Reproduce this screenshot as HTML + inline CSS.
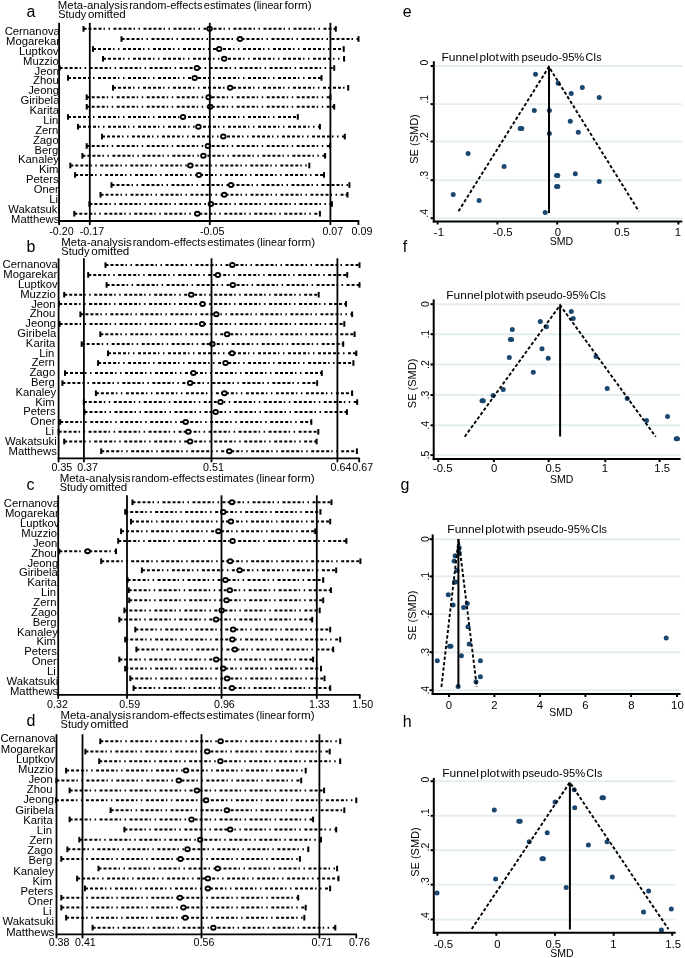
<!DOCTYPE html>
<html><head><meta charset="utf-8"><title>Sensitivity and funnel plots</title>
<style>
html,body{margin:0;padding:0;background:#fff;}
body{width:685px;height:958px;overflow:hidden;}
svg{display:block;font-family:"Liberation Sans", sans-serif;will-change:transform;}
.let{font-size:16px;fill:#000;}
.t10{font-size:10.5px;fill:#000;}
.t11{font-size:11px;fill:#000;}
.lab{font-size:10.5px;fill:#000;}
.tick{font-size:10px;fill:#000;}
.dash{stroke:#000;stroke-width:2;stroke-dasharray:3 2 3 2 3 2 3 2 1.5 3.5 1.5 3.5;fill:none;}
.cap{fill:#000;}
.ax{stroke:#000;stroke-width:1.8;fill:none;}
.ax2{stroke:#000;stroke-width:2;fill:none;}
.circ{fill:#fff;stroke:#000;stroke-width:1.6;}
.grid{stroke:#e4eeef;stroke-width:1.9;}
.fdash{stroke:#000;stroke-width:1.9;stroke-dasharray:3.3 2.1;fill:none;}
.vl{stroke:#000;stroke-width:2;}
</style></head>
<body>
<svg width="685" height="958" viewBox="0 0 685 958">
<rect width="685" height="958" fill="#fff"/>
<text x="26.6" y="16.8" class="let">a</text>
<text class="t10" transform="translate(57.76,8.7) scale(1.0907,1)">Meta-analysis</text>
<text class="t10" transform="translate(129.17,8.7) scale(1.0500,1)">random-effects</text>
<text class="t10" transform="translate(203.74,8.7) scale(1.0542,1)">estimates</text>
<text class="t10" transform="translate(253.14,8.7) scale(1.0190,1)">(linear</text>
<text class="t10" transform="translate(284.44,8.7) scale(1.1098,1)">form)</text>
<text class="t10" transform="translate(58.21,17.7) scale(1.0434,1)">Study</text>
<text class="t10" transform="translate(87.91,17.7) scale(1.1016,1)">omitted</text>
<text class="lab" transform="translate(4.64,35.1) scale(1.075,1)">Cernanova</text>
<text class="lab" transform="translate(6.07,44.97) scale(1.075,1)">Mogarekar</text>
<text class="lab" transform="translate(19.07,54.85) scale(1.075,1)">Luptkov</text>
<text class="lab" transform="translate(23.07,64.72) scale(1.075,1)">Muzzio</text>
<text class="lab" transform="translate(34.53,74.6) scale(1.075,1)">Jeon</text>
<text class="lab" transform="translate(33.05,84.47) scale(1.075,1)">Zhou</text>
<text class="lab" transform="translate(28.23,94.34) scale(1.075,1)">Jeong</text>
<text class="lab" transform="translate(20.54,104.22) scale(1.075,1)">Giribela</text>
<text class="lab" transform="translate(29.57,114.09) scale(1.075,1)">Karita</text>
<text class="lab" transform="translate(43.17,123.97) scale(1.075,1)">Lin</text>
<text class="lab" transform="translate(35.15,133.84) scale(1.075,1)">Zern</text>
<text class="lab" transform="translate(32.95,143.71) scale(1.075,1)">Zago</text>
<text class="lab" transform="translate(34.57,153.59) scale(1.075,1)">Berg</text>
<text class="lab" transform="translate(18.07,163.46) scale(1.075,1)">Kanaley</text>
<text class="lab" transform="translate(38.97,173.34) scale(1.075,1)">Kim</text>
<text class="lab" transform="translate(26.07,183.21) scale(1.075,1)">Peters</text>
<text class="lab" transform="translate(33.67,193.08) scale(1.075,1)">Oner</text>
<text class="lab" transform="translate(49.17,202.96) scale(1.075,1)">Li</text>
<text class="lab" transform="translate(8.35,212.83) scale(1.075,1)">Wakatsuki</text>
<text class="lab" transform="translate(11.07,222.71) scale(1.075,1)">Matthews</text>
<line x1="83.5" y1="28.87" x2="335.8" y2="28.87" class="dash"/>
<rect x="82.5" y="26.07" width="2.0" height="5.6" class="cap"/>
<rect x="334.8" y="26.07" width="2.0" height="5.6" class="cap"/>
<line x1="121.5" y1="38.99" x2="358.5" y2="38.99" class="dash"/>
<rect x="120.5" y="36.19" width="2.0" height="5.6" class="cap"/>
<rect x="357.5" y="36.19" width="2.0" height="5.6" class="cap"/>
<line x1="93" y1="49" x2="343.7" y2="49" class="dash"/>
<rect x="92" y="46.2" width="2.0" height="5.6" class="cap"/>
<rect x="342.7" y="46.2" width="2.0" height="5.6" class="cap"/>
<line x1="103" y1="58.8" x2="344.1" y2="58.8" class="dash"/>
<rect x="102" y="56" width="2.0" height="5.6" class="cap"/>
<rect x="343.1" y="56" width="2.0" height="5.6" class="cap"/>
<line x1="59.6" y1="68" x2="334.2" y2="68" class="dash"/>
<rect x="58.6" y="65.2" width="2.0" height="5.6" class="cap"/>
<rect x="333.2" y="65.2" width="2.0" height="5.6" class="cap"/>
<line x1="68" y1="77.9" x2="321.5" y2="77.9" class="dash"/>
<rect x="67" y="75.1" width="2.0" height="5.6" class="cap"/>
<rect x="320.5" y="75.1" width="2.0" height="5.6" class="cap"/>
<line x1="113" y1="87.8" x2="348.2" y2="87.8" class="dash"/>
<rect x="112" y="85" width="2.0" height="5.6" class="cap"/>
<rect x="347.2" y="85" width="2.0" height="5.6" class="cap"/>
<line x1="86.7" y1="97.2" x2="330.4" y2="97.2" class="dash"/>
<rect x="85.7" y="94.4" width="2.0" height="5.6" class="cap"/>
<rect x="329.4" y="94.4" width="2.0" height="5.6" class="cap"/>
<line x1="86.7" y1="106.8" x2="334.2" y2="106.8" class="dash"/>
<rect x="85.7" y="104" width="2.0" height="5.6" class="cap"/>
<rect x="333.2" y="104" width="2.0" height="5.6" class="cap"/>
<line x1="68" y1="116.9" x2="297.8" y2="116.9" class="dash"/>
<rect x="67" y="114.1" width="2.0" height="5.6" class="cap"/>
<rect x="296.8" y="114.1" width="2.0" height="5.6" class="cap"/>
<line x1="78" y1="126.7" x2="319.9" y2="126.7" class="dash"/>
<rect x="77" y="123.9" width="2.0" height="5.6" class="cap"/>
<rect x="318.9" y="123.9" width="2.0" height="5.6" class="cap"/>
<line x1="102" y1="136.6" x2="344.8" y2="136.6" class="dash"/>
<rect x="101" y="133.8" width="2.0" height="5.6" class="cap"/>
<rect x="343.8" y="133.8" width="2.0" height="5.6" class="cap"/>
<line x1="86.7" y1="146" x2="330.1" y2="146" class="dash"/>
<rect x="85.7" y="143.2" width="2.0" height="5.6" class="cap"/>
<rect x="329.1" y="143.2" width="2.0" height="5.6" class="cap"/>
<line x1="82.4" y1="155.8" x2="325.1" y2="155.8" class="dash"/>
<rect x="81.4" y="153" width="2.0" height="5.6" class="cap"/>
<rect x="324.1" y="153" width="2.0" height="5.6" class="cap"/>
<line x1="70.3" y1="165.5" x2="309.3" y2="165.5" class="dash"/>
<rect x="69.3" y="162.7" width="2.0" height="5.6" class="cap"/>
<rect x="308.3" y="162.7" width="2.0" height="5.6" class="cap"/>
<line x1="75.1" y1="174.9" x2="324" y2="174.9" class="dash"/>
<rect x="74.1" y="172.1" width="2.0" height="5.6" class="cap"/>
<rect x="323" y="172.1" width="2.0" height="5.6" class="cap"/>
<line x1="111.5" y1="185" x2="349.4" y2="185" class="dash"/>
<rect x="110.5" y="182.2" width="2.0" height="5.6" class="cap"/>
<rect x="348.4" y="182.2" width="2.0" height="5.6" class="cap"/>
<line x1="100.5" y1="194.8" x2="347.5" y2="194.8" class="dash"/>
<rect x="99.5" y="192" width="2.0" height="5.6" class="cap"/>
<rect x="346.5" y="192" width="2.0" height="5.6" class="cap"/>
<line x1="89.4" y1="204" x2="331.9" y2="204" class="dash"/>
<rect x="88.4" y="201.2" width="2.0" height="5.6" class="cap"/>
<rect x="330.9" y="201.2" width="2.0" height="5.6" class="cap"/>
<line x1="74.3" y1="213.7" x2="319.9" y2="213.7" class="dash"/>
<rect x="73.3" y="210.9" width="2.0" height="5.6" class="cap"/>
<rect x="318.9" y="210.9" width="2.0" height="5.6" class="cap"/>
<ellipse cx="209.6" cy="28.87" rx="3.2" ry="3.0" fill="#000"/><ellipse cx="209.6" cy="28.87" rx="1.5" ry="1.0" fill="#fff"/>
<ellipse cx="240" cy="38.99" rx="3.2" ry="3.0" fill="#000"/><ellipse cx="240" cy="38.99" rx="1.5" ry="1.0" fill="#fff"/>
<ellipse cx="219.2" cy="49" rx="3.2" ry="3.0" fill="#000"/><ellipse cx="219.2" cy="49" rx="1.5" ry="1.0" fill="#fff"/>
<ellipse cx="224.2" cy="58.8" rx="3.2" ry="3.0" fill="#000"/><ellipse cx="224.2" cy="58.8" rx="1.5" ry="1.0" fill="#fff"/>
<ellipse cx="196.9" cy="68" rx="3.2" ry="3.0" fill="#000"/><ellipse cx="196.9" cy="68" rx="1.5" ry="1.0" fill="#fff"/>
<ellipse cx="194.7" cy="77.9" rx="3.2" ry="3.0" fill="#000"/><ellipse cx="194.7" cy="77.9" rx="1.5" ry="1.0" fill="#fff"/>
<ellipse cx="230.1" cy="87.8" rx="3.2" ry="3.0" fill="#000"/><ellipse cx="230.1" cy="87.8" rx="1.5" ry="1.0" fill="#fff"/>
<ellipse cx="208.6" cy="97.2" rx="3.2" ry="3.0" fill="#000"/><ellipse cx="208.6" cy="97.2" rx="1.5" ry="1.0" fill="#fff"/>
<ellipse cx="210.2" cy="106.8" rx="3.2" ry="3.0" fill="#000"/><ellipse cx="210.2" cy="106.8" rx="1.5" ry="1.0" fill="#fff"/>
<ellipse cx="183" cy="116.9" rx="3.2" ry="3.0" fill="#000"/><ellipse cx="183" cy="116.9" rx="1.5" ry="1.0" fill="#fff"/>
<ellipse cx="198.4" cy="126.7" rx="3.2" ry="3.0" fill="#000"/><ellipse cx="198.4" cy="126.7" rx="1.5" ry="1.0" fill="#fff"/>
<ellipse cx="223.3" cy="136.6" rx="3.2" ry="3.0" fill="#000"/><ellipse cx="223.3" cy="136.6" rx="1.5" ry="1.0" fill="#fff"/>
<ellipse cx="207.9" cy="146" rx="3.2" ry="3.0" fill="#000"/><ellipse cx="207.9" cy="146" rx="1.5" ry="1.0" fill="#fff"/>
<ellipse cx="203.4" cy="155.8" rx="3.2" ry="3.0" fill="#000"/><ellipse cx="203.4" cy="155.8" rx="1.5" ry="1.0" fill="#fff"/>
<ellipse cx="190.3" cy="165.5" rx="3.2" ry="3.0" fill="#000"/><ellipse cx="190.3" cy="165.5" rx="1.5" ry="1.0" fill="#fff"/>
<ellipse cx="198.9" cy="174.9" rx="3.2" ry="3.0" fill="#000"/><ellipse cx="198.9" cy="174.9" rx="1.5" ry="1.0" fill="#fff"/>
<ellipse cx="231" cy="185" rx="3.2" ry="3.0" fill="#000"/><ellipse cx="231" cy="185" rx="1.5" ry="1.0" fill="#fff"/>
<ellipse cx="224.2" cy="194.8" rx="3.2" ry="3.0" fill="#000"/><ellipse cx="224.2" cy="194.8" rx="1.5" ry="1.0" fill="#fff"/>
<ellipse cx="210.9" cy="204" rx="3.2" ry="3.0" fill="#000"/><ellipse cx="210.9" cy="204" rx="1.5" ry="1.0" fill="#fff"/>
<ellipse cx="197.3" cy="213.7" rx="3.2" ry="3.0" fill="#000"/><ellipse cx="197.3" cy="213.7" rx="1.5" ry="1.0" fill="#fff"/>
<line x1="89.8" y1="22.8" x2="89.8" y2="221" class="ax"/>
<line x1="209.8" y1="22.8" x2="209.8" y2="221" class="ax"/>
<line x1="330.4" y1="22.8" x2="330.4" y2="221" class="ax"/>
<line x1="59.1" y1="22.8" x2="59.1" y2="221.9" class="ax"/>
<line x1="58.2" y1="221" x2="359.2" y2="221" class="ax"/>
<line x1="59.1" y1="221" x2="59.1" y2="225" class="ax"/>
<line x1="89.8" y1="221" x2="89.8" y2="225" class="ax"/>
<line x1="209.8" y1="221" x2="209.8" y2="225" class="ax"/>
<line x1="330.4" y1="221" x2="330.4" y2="225" class="ax"/>
<line x1="358.4" y1="221" x2="358.4" y2="225" class="ax"/>
<text class="tick" text-anchor="middle" transform="translate(61.4,234.8) scale(1.07,1)">-0.20</text>
<text class="tick" text-anchor="middle" transform="translate(91.9,234.8) scale(1.07,1)">-0.17</text>
<text class="tick" text-anchor="middle" transform="translate(212.2,234.8) scale(1.07,1)">-0.05</text>
<text class="tick" text-anchor="middle" transform="translate(332.8,234.8) scale(1.07,1)">0.07</text>
<text class="tick" text-anchor="middle" transform="translate(362,234.8) scale(1.07,1)">0.09</text>
<text x="26.6" y="251.9" class="let">b</text>
<text class="t10" transform="translate(61.26,245.5) scale(1.0912,1)">Meta-analysis</text>
<text class="t10" transform="translate(132.7,245.5) scale(1.0504,1)">random-effects</text>
<text class="t10" transform="translate(207.29,245.5) scale(1.0546,1)">estimates</text>
<text class="t10" transform="translate(256.71,245.5) scale(1.0194,1)">(linear</text>
<text class="t10" transform="translate(288.03,245.5) scale(1.1102,1)">form)</text>
<text class="t10" transform="translate(61.3,254.7) scale(1.0497,1)">Study</text>
<text class="t10" transform="translate(91.19,254.7) scale(1.1082,1)">omitted</text>
<text class="lab" transform="translate(2.54,268.4) scale(1.075,1)">Cernanova</text>
<text class="lab" transform="translate(3.27,278.2) scale(1.075,1)">Mogarekar</text>
<text class="lab" transform="translate(18.07,288.01) scale(1.075,1)">Luptkov</text>
<text class="lab" transform="translate(20.17,297.81) scale(1.075,1)">Muzzio</text>
<text class="lab" transform="translate(31.13,307.62) scale(1.075,1)">Jeon</text>
<text class="lab" transform="translate(29.65,317.42) scale(1.075,1)">Zhou</text>
<text class="lab" transform="translate(25.33,327.23) scale(1.075,1)">Jeong</text>
<text class="lab" transform="translate(17.34,337.03) scale(1.075,1)">Giribela</text>
<text class="lab" transform="translate(25.87,346.84) scale(1.075,1)">Karita</text>
<text class="lab" transform="translate(39.17,356.64) scale(1.075,1)">Lin</text>
<text class="lab" transform="translate(31.65,366.45) scale(1.075,1)">Zern</text>
<text class="lab" transform="translate(29.45,376.25) scale(1.075,1)">Zago</text>
<text class="lab" transform="translate(31.07,386.06) scale(1.075,1)">Berg</text>
<text class="lab" transform="translate(15.47,395.87) scale(1.075,1)">Kanaley</text>
<text class="lab" transform="translate(35.17,405.67) scale(1.075,1)">Kim</text>
<text class="lab" transform="translate(23.17,415.47) scale(1.075,1)">Peters</text>
<text class="lab" transform="translate(30.37,425.28) scale(1.075,1)">Oner</text>
<text class="lab" transform="translate(45.27,435.08) scale(1.075,1)">Li</text>
<text class="lab" transform="translate(5.05,444.89) scale(1.075,1)">Wakatsuki</text>
<text class="lab" transform="translate(8.57,454.69) scale(1.075,1)">Matthews</text>
<line x1="105.5" y1="265.1" x2="359.5" y2="265.1" class="dash"/>
<rect x="104.5" y="262.3" width="2.0" height="5.6" class="cap"/>
<rect x="358.5" y="262.3" width="2.0" height="5.6" class="cap"/>
<line x1="88.2" y1="274.9" x2="347.2" y2="274.9" class="dash"/>
<rect x="87.2" y="272.1" width="2.0" height="5.6" class="cap"/>
<rect x="346.2" y="272.1" width="2.0" height="5.6" class="cap"/>
<line x1="106.6" y1="284.9" x2="359.5" y2="284.9" class="dash"/>
<rect x="105.6" y="282.1" width="2.0" height="5.6" class="cap"/>
<rect x="358.5" y="282.1" width="2.0" height="5.6" class="cap"/>
<line x1="64.2" y1="294.7" x2="318.7" y2="294.7" class="dash"/>
<rect x="63.2" y="291.9" width="2.0" height="5.6" class="cap"/>
<rect x="317.7" y="291.9" width="2.0" height="5.6" class="cap"/>
<line x1="59.1" y1="303.9" x2="346" y2="303.9" class="dash"/>
<rect x="58.1" y="301.1" width="2.0" height="5.6" class="cap"/>
<rect x="345" y="301.1" width="2.0" height="5.6" class="cap"/>
<line x1="80.4" y1="314.3" x2="352.1" y2="314.3" class="dash"/>
<rect x="79.4" y="311.5" width="2.0" height="5.6" class="cap"/>
<rect x="351.1" y="311.5" width="2.0" height="5.6" class="cap"/>
<line x1="59.6" y1="323.9" x2="344.3" y2="323.9" class="dash"/>
<rect x="58.6" y="321.1" width="2.0" height="5.6" class="cap"/>
<rect x="343.3" y="321.1" width="2.0" height="5.6" class="cap"/>
<line x1="100.3" y1="334.2" x2="354.6" y2="334.2" class="dash"/>
<rect x="99.3" y="331.4" width="2.0" height="5.6" class="cap"/>
<rect x="353.6" y="331.4" width="2.0" height="5.6" class="cap"/>
<line x1="81.7" y1="344.1" x2="343.2" y2="344.1" class="dash"/>
<rect x="80.7" y="341.3" width="2.0" height="5.6" class="cap"/>
<rect x="342.2" y="341.3" width="2.0" height="5.6" class="cap"/>
<line x1="108" y1="353.3" x2="356.3" y2="353.3" class="dash"/>
<rect x="107" y="350.5" width="2.0" height="5.6" class="cap"/>
<rect x="355.3" y="350.5" width="2.0" height="5.6" class="cap"/>
<line x1="98.1" y1="363" x2="353.4" y2="363" class="dash"/>
<rect x="97.1" y="360.2" width="2.0" height="5.6" class="cap"/>
<rect x="352.4" y="360.2" width="2.0" height="5.6" class="cap"/>
<line x1="65" y1="373.1" x2="321.8" y2="373.1" class="dash"/>
<rect x="64" y="370.3" width="2.0" height="5.6" class="cap"/>
<rect x="320.8" y="370.3" width="2.0" height="5.6" class="cap"/>
<line x1="62.4" y1="383.1" x2="317.1" y2="383.1" class="dash"/>
<rect x="61.4" y="380.3" width="2.0" height="5.6" class="cap"/>
<rect x="316.1" y="380.3" width="2.0" height="5.6" class="cap"/>
<line x1="95.9" y1="393.2" x2="352.1" y2="393.2" class="dash"/>
<rect x="94.9" y="390.4" width="2.0" height="5.6" class="cap"/>
<rect x="351.1" y="390.4" width="2.0" height="5.6" class="cap"/>
<line x1="83.8" y1="402.1" x2="357.2" y2="402.1" class="dash"/>
<rect x="82.8" y="399.3" width="2.0" height="5.6" class="cap"/>
<rect x="356.2" y="399.3" width="2.0" height="5.6" class="cap"/>
<line x1="84.5" y1="412.1" x2="346.9" y2="412.1" class="dash"/>
<rect x="83.5" y="409.3" width="2.0" height="5.6" class="cap"/>
<rect x="345.9" y="409.3" width="2.0" height="5.6" class="cap"/>
<line x1="60.2" y1="422" x2="311.3" y2="422" class="dash"/>
<rect x="59.2" y="419.2" width="2.0" height="5.6" class="cap"/>
<rect x="310.3" y="419.2" width="2.0" height="5.6" class="cap"/>
<line x1="58.6" y1="431.8" x2="318.3" y2="431.8" class="dash"/>
<rect x="57.6" y="429" width="2.0" height="5.6" class="cap"/>
<rect x="317.3" y="429" width="2.0" height="5.6" class="cap"/>
<line x1="64.2" y1="441.5" x2="316.6" y2="441.5" class="dash"/>
<rect x="63.2" y="438.7" width="2.0" height="5.6" class="cap"/>
<rect x="315.6" y="438.7" width="2.0" height="5.6" class="cap"/>
<line x1="101.2" y1="451.2" x2="356.9" y2="451.2" class="dash"/>
<rect x="100.2" y="448.4" width="2.0" height="5.6" class="cap"/>
<rect x="355.9" y="448.4" width="2.0" height="5.6" class="cap"/>
<ellipse cx="232.3" cy="265.1" rx="3.2" ry="3.0" fill="#000"/><ellipse cx="232.3" cy="265.1" rx="1.5" ry="1.0" fill="#fff"/>
<ellipse cx="217.9" cy="274.9" rx="3.2" ry="3.0" fill="#000"/><ellipse cx="217.9" cy="274.9" rx="1.5" ry="1.0" fill="#fff"/>
<ellipse cx="232.8" cy="284.9" rx="3.2" ry="3.0" fill="#000"/><ellipse cx="232.8" cy="284.9" rx="1.5" ry="1.0" fill="#fff"/>
<ellipse cx="191.2" cy="294.7" rx="3.2" ry="3.0" fill="#000"/><ellipse cx="191.2" cy="294.7" rx="1.5" ry="1.0" fill="#fff"/>
<ellipse cx="202.6" cy="303.9" rx="3.2" ry="3.0" fill="#000"/><ellipse cx="202.6" cy="303.9" rx="1.5" ry="1.0" fill="#fff"/>
<ellipse cx="216.3" cy="314.3" rx="3.2" ry="3.0" fill="#000"/><ellipse cx="216.3" cy="314.3" rx="1.5" ry="1.0" fill="#fff"/>
<ellipse cx="202.1" cy="323.9" rx="3.2" ry="3.0" fill="#000"/><ellipse cx="202.1" cy="323.9" rx="1.5" ry="1.0" fill="#fff"/>
<ellipse cx="227.1" cy="334.2" rx="3.2" ry="3.0" fill="#000"/><ellipse cx="227.1" cy="334.2" rx="1.5" ry="1.0" fill="#fff"/>
<ellipse cx="212.4" cy="344.1" rx="3.2" ry="3.0" fill="#000"/><ellipse cx="212.4" cy="344.1" rx="1.5" ry="1.0" fill="#fff"/>
<ellipse cx="232.1" cy="353.3" rx="3.2" ry="3.0" fill="#000"/><ellipse cx="232.1" cy="353.3" rx="1.5" ry="1.0" fill="#fff"/>
<ellipse cx="225.5" cy="363" rx="3.2" ry="3.0" fill="#000"/><ellipse cx="225.5" cy="363" rx="1.5" ry="1.0" fill="#fff"/>
<ellipse cx="193.4" cy="373.1" rx="3.2" ry="3.0" fill="#000"/><ellipse cx="193.4" cy="373.1" rx="1.5" ry="1.0" fill="#fff"/>
<ellipse cx="190.1" cy="383.1" rx="3.2" ry="3.0" fill="#000"/><ellipse cx="190.1" cy="383.1" rx="1.5" ry="1.0" fill="#fff"/>
<ellipse cx="224.4" cy="393.2" rx="3.2" ry="3.0" fill="#000"/><ellipse cx="224.4" cy="393.2" rx="1.5" ry="1.0" fill="#fff"/>
<ellipse cx="220.5" cy="402.1" rx="3.2" ry="3.0" fill="#000"/><ellipse cx="220.5" cy="402.1" rx="1.5" ry="1.0" fill="#fff"/>
<ellipse cx="215.7" cy="412.1" rx="3.2" ry="3.0" fill="#000"/><ellipse cx="215.7" cy="412.1" rx="1.5" ry="1.0" fill="#fff"/>
<ellipse cx="185.7" cy="422" rx="3.2" ry="3.0" fill="#000"/><ellipse cx="185.7" cy="422" rx="1.5" ry="1.0" fill="#fff"/>
<ellipse cx="188.3" cy="431.8" rx="3.2" ry="3.0" fill="#000"/><ellipse cx="188.3" cy="431.8" rx="1.5" ry="1.0" fill="#fff"/>
<ellipse cx="190.1" cy="441.5" rx="3.2" ry="3.0" fill="#000"/><ellipse cx="190.1" cy="441.5" rx="1.5" ry="1.0" fill="#fff"/>
<ellipse cx="229.3" cy="451.2" rx="3.2" ry="3.0" fill="#000"/><ellipse cx="229.3" cy="451.2" rx="1.5" ry="1.0" fill="#fff"/>
<line x1="83.9" y1="258.3" x2="83.9" y2="458.3" class="ax"/>
<line x1="211.5" y1="258.3" x2="211.5" y2="458.3" class="ax"/>
<line x1="337.4" y1="258.3" x2="337.4" y2="458.3" class="ax"/>
<line x1="58.6" y1="258.3" x2="58.6" y2="459.2" class="ax"/>
<line x1="57.7" y1="458.3" x2="359.8" y2="458.3" class="ax"/>
<line x1="58.6" y1="458.3" x2="58.6" y2="462.3" class="ax"/>
<line x1="83.9" y1="458.3" x2="83.9" y2="462.3" class="ax"/>
<line x1="211.5" y1="458.3" x2="211.5" y2="462.3" class="ax"/>
<line x1="337.4" y1="458.3" x2="337.4" y2="462.3" class="ax"/>
<line x1="359.2" y1="458.3" x2="359.2" y2="462.3" class="ax"/>
<text class="tick" text-anchor="middle" transform="translate(61.9,471.4) scale(1.07,1)">0.35</text>
<text class="tick" text-anchor="middle" transform="translate(87.6,471.4) scale(1.07,1)">0.37</text>
<text class="tick" text-anchor="middle" transform="translate(213.5,471.4) scale(1.07,1)">0.51</text>
<text class="tick" text-anchor="middle" transform="translate(341,471.4) scale(1.07,1)">0.64</text>
<text class="tick" text-anchor="middle" transform="translate(362.7,471.4) scale(1.07,1)">0.67</text>
<text x="26.6" y="489.7" class="let">c</text>
<text class="t10" transform="translate(59.66,481.5) scale(1.0959,1)">Meta-analysis</text>
<text class="t10" transform="translate(131.41,481.5) scale(1.0550,1)">random-effects</text>
<text class="t10" transform="translate(206.33,481.5) scale(1.0592,1)">estimates</text>
<text class="t10" transform="translate(255.96,481.5) scale(1.0239,1)">(linear</text>
<text class="t10" transform="translate(287.41,481.5) scale(1.1151,1)">form)</text>
<text class="t10" transform="translate(59.81,490.7) scale(1.0403,1)">Study</text>
<text class="t10" transform="translate(89.43,490.7) scale(1.0982,1)">omitted</text>
<text class="lab" transform="translate(3.84,507.3) scale(1.075,1)">Cernanova</text>
<text class="lab" transform="translate(4.97,517.17) scale(1.075,1)">Mogarekar</text>
<text class="lab" transform="translate(19.97,527.04) scale(1.075,1)">Luptkov</text>
<text class="lab" transform="translate(21.37,536.9) scale(1.075,1)">Muzzio</text>
<text class="lab" transform="translate(32.93,546.77) scale(1.075,1)">Jeon</text>
<text class="lab" transform="translate(31.15,556.64) scale(1.075,1)">Zhou</text>
<text class="lab" transform="translate(27.43,566.51) scale(1.075,1)">Jeong</text>
<text class="lab" transform="translate(18.94,576.38) scale(1.075,1)">Giribela</text>
<text class="lab" transform="translate(27.27,586.24) scale(1.075,1)">Karita</text>
<text class="lab" transform="translate(41.07,596.11) scale(1.075,1)">Lin</text>
<text class="lab" transform="translate(33.25,605.98) scale(1.075,1)">Zern</text>
<text class="lab" transform="translate(31.05,615.85) scale(1.075,1)">Zago</text>
<text class="lab" transform="translate(32.67,625.72) scale(1.075,1)">Berg</text>
<text class="lab" transform="translate(17.07,635.58) scale(1.075,1)">Kanaley</text>
<text class="lab" transform="translate(36.57,645.45) scale(1.075,1)">Kim</text>
<text class="lab" transform="translate(24.27,655.32) scale(1.075,1)">Peters</text>
<text class="lab" transform="translate(31.67,665.19) scale(1.075,1)">Oner</text>
<text class="lab" transform="translate(46.97,675.06) scale(1.075,1)">Li</text>
<text class="lab" transform="translate(6.55,684.92) scale(1.075,1)">Wakatsuki</text>
<text class="lab" transform="translate(9.97,694.79) scale(1.075,1)">Matthews</text>
<line x1="132.5" y1="502.3" x2="331.5" y2="502.3" class="dash"/>
<rect x="131.5" y="499.5" width="2.0" height="5.6" class="cap"/>
<rect x="330.5" y="499.5" width="2.0" height="5.6" class="cap"/>
<line x1="125.2" y1="511.9" x2="320.4" y2="511.9" class="dash"/>
<rect x="124.2" y="509.1" width="2.0" height="5.6" class="cap"/>
<rect x="319.4" y="509.1" width="2.0" height="5.6" class="cap"/>
<line x1="131" y1="521.6" x2="330.2" y2="521.6" class="dash"/>
<rect x="130" y="518.8" width="2.0" height="5.6" class="cap"/>
<rect x="329.2" y="518.8" width="2.0" height="5.6" class="cap"/>
<line x1="121.1" y1="531.3" x2="315.2" y2="531.3" class="dash"/>
<rect x="120.1" y="528.5" width="2.0" height="5.6" class="cap"/>
<rect x="314.2" y="528.5" width="2.0" height="5.6" class="cap"/>
<line x1="118.2" y1="540.9" x2="346.4" y2="540.9" class="dash"/>
<rect x="117.2" y="538.1" width="2.0" height="5.6" class="cap"/>
<rect x="345.4" y="538.1" width="2.0" height="5.6" class="cap"/>
<line x1="59.2" y1="551.3" x2="116" y2="551.3" class="dash"/>
<rect x="58.2" y="548.5" width="2.0" height="5.6" class="cap"/>
<rect x="115" y="548.5" width="2.0" height="5.6" class="cap"/>
<line x1="101.2" y1="561.2" x2="360.4" y2="561.2" class="dash"/>
<rect x="100.2" y="558.4" width="2.0" height="5.6" class="cap"/>
<rect x="359.4" y="558.4" width="2.0" height="5.6" class="cap"/>
<line x1="141.9" y1="570.3" x2="336.2" y2="570.3" class="dash"/>
<rect x="140.9" y="567.5" width="2.0" height="5.6" class="cap"/>
<rect x="335.2" y="567.5" width="2.0" height="5.6" class="cap"/>
<line x1="127.6" y1="580" x2="323.2" y2="580" class="dash"/>
<rect x="126.6" y="577.2" width="2.0" height="5.6" class="cap"/>
<rect x="322.2" y="577.2" width="2.0" height="5.6" class="cap"/>
<line x1="128.7" y1="590.2" x2="330.9" y2="590.2" class="dash"/>
<rect x="127.7" y="587.4" width="2.0" height="5.6" class="cap"/>
<rect x="329.9" y="587.4" width="2.0" height="5.6" class="cap"/>
<line x1="129.2" y1="600.3" x2="323.2" y2="600.3" class="dash"/>
<rect x="128.2" y="597.5" width="2.0" height="5.6" class="cap"/>
<rect x="322.2" y="597.5" width="2.0" height="5.6" class="cap"/>
<line x1="124.4" y1="610.4" x2="319.7" y2="610.4" class="dash"/>
<rect x="123.4" y="607.6" width="2.0" height="5.6" class="cap"/>
<rect x="318.7" y="607.6" width="2.0" height="5.6" class="cap"/>
<line x1="119.3" y1="619.6" x2="312.2" y2="619.6" class="dash"/>
<rect x="118.3" y="616.8" width="2.0" height="5.6" class="cap"/>
<rect x="311.2" y="616.8" width="2.0" height="5.6" class="cap"/>
<line x1="135.3" y1="629.6" x2="330.2" y2="629.6" class="dash"/>
<rect x="134.3" y="626.8" width="2.0" height="5.6" class="cap"/>
<rect x="329.2" y="626.8" width="2.0" height="5.6" class="cap"/>
<line x1="125.2" y1="639.6" x2="340.2" y2="639.6" class="dash"/>
<rect x="124.2" y="636.8" width="2.0" height="5.6" class="cap"/>
<rect x="339.2" y="636.8" width="2.0" height="5.6" class="cap"/>
<line x1="136.4" y1="649.4" x2="333.2" y2="649.4" class="dash"/>
<rect x="135.4" y="646.6" width="2.0" height="5.6" class="cap"/>
<rect x="332.2" y="646.6" width="2.0" height="5.6" class="cap"/>
<line x1="119.3" y1="659.4" x2="313.1" y2="659.4" class="dash"/>
<rect x="118.3" y="656.6" width="2.0" height="5.6" class="cap"/>
<rect x="312.1" y="656.6" width="2.0" height="5.6" class="cap"/>
<line x1="125.2" y1="668.6" x2="321" y2="668.6" class="dash"/>
<rect x="124.2" y="665.8" width="2.0" height="5.6" class="cap"/>
<rect x="320" y="665.8" width="2.0" height="5.6" class="cap"/>
<line x1="130.3" y1="678.4" x2="324.5" y2="678.4" class="dash"/>
<rect x="129.3" y="675.6" width="2.0" height="5.6" class="cap"/>
<rect x="323.5" y="675.6" width="2.0" height="5.6" class="cap"/>
<line x1="133.6" y1="688.1" x2="330.2" y2="688.1" class="dash"/>
<rect x="132.6" y="685.3" width="2.0" height="5.6" class="cap"/>
<rect x="329.2" y="685.3" width="2.0" height="5.6" class="cap"/>
<ellipse cx="232" cy="502.3" rx="3.2" ry="3.0" fill="#000"/><ellipse cx="232" cy="502.3" rx="1.5" ry="1.0" fill="#fff"/>
<ellipse cx="223.2" cy="511.9" rx="3.2" ry="3.0" fill="#000"/><ellipse cx="223.2" cy="511.9" rx="1.5" ry="1.0" fill="#fff"/>
<ellipse cx="230.9" cy="521.6" rx="3.2" ry="3.0" fill="#000"/><ellipse cx="230.9" cy="521.6" rx="1.5" ry="1.0" fill="#fff"/>
<ellipse cx="218.4" cy="531.3" rx="3.2" ry="3.0" fill="#000"/><ellipse cx="218.4" cy="531.3" rx="1.5" ry="1.0" fill="#fff"/>
<ellipse cx="232.6" cy="540.9" rx="3.2" ry="3.0" fill="#000"/><ellipse cx="232.6" cy="540.9" rx="1.5" ry="1.0" fill="#fff"/>
<ellipse cx="87.6" cy="551.3" rx="3.2" ry="3.0" fill="#000"/><ellipse cx="87.6" cy="551.3" rx="1.5" ry="1.0" fill="#fff"/>
<ellipse cx="230.2" cy="561.2" rx="3.2" ry="3.0" fill="#000"/><ellipse cx="230.2" cy="561.2" rx="1.5" ry="1.0" fill="#fff"/>
<ellipse cx="239.6" cy="570.3" rx="3.2" ry="3.0" fill="#000"/><ellipse cx="239.6" cy="570.3" rx="1.5" ry="1.0" fill="#fff"/>
<ellipse cx="225.4" cy="580" rx="3.2" ry="3.0" fill="#000"/><ellipse cx="225.4" cy="580" rx="1.5" ry="1.0" fill="#fff"/>
<ellipse cx="229.8" cy="590.2" rx="3.2" ry="3.0" fill="#000"/><ellipse cx="229.8" cy="590.2" rx="1.5" ry="1.0" fill="#fff"/>
<ellipse cx="226.5" cy="600.3" rx="3.2" ry="3.0" fill="#000"/><ellipse cx="226.5" cy="600.3" rx="1.5" ry="1.0" fill="#fff"/>
<ellipse cx="221.7" cy="610.4" rx="3.2" ry="3.0" fill="#000"/><ellipse cx="221.7" cy="610.4" rx="1.5" ry="1.0" fill="#fff"/>
<ellipse cx="216" cy="619.6" rx="3.2" ry="3.0" fill="#000"/><ellipse cx="216" cy="619.6" rx="1.5" ry="1.0" fill="#fff"/>
<ellipse cx="233.1" cy="629.6" rx="3.2" ry="3.0" fill="#000"/><ellipse cx="233.1" cy="629.6" rx="1.5" ry="1.0" fill="#fff"/>
<ellipse cx="232.4" cy="639.6" rx="3.2" ry="3.0" fill="#000"/><ellipse cx="232.4" cy="639.6" rx="1.5" ry="1.0" fill="#fff"/>
<ellipse cx="234.8" cy="649.4" rx="3.2" ry="3.0" fill="#000"/><ellipse cx="234.8" cy="649.4" rx="1.5" ry="1.0" fill="#fff"/>
<ellipse cx="216.2" cy="659.4" rx="3.2" ry="3.0" fill="#000"/><ellipse cx="216.2" cy="659.4" rx="1.5" ry="1.0" fill="#fff"/>
<ellipse cx="223.2" cy="668.6" rx="3.2" ry="3.0" fill="#000"/><ellipse cx="223.2" cy="668.6" rx="1.5" ry="1.0" fill="#fff"/>
<ellipse cx="227.1" cy="678.4" rx="3.2" ry="3.0" fill="#000"/><ellipse cx="227.1" cy="678.4" rx="1.5" ry="1.0" fill="#fff"/>
<ellipse cx="232" cy="688.1" rx="3.2" ry="3.0" fill="#000"/><ellipse cx="232" cy="688.1" rx="1.5" ry="1.0" fill="#fff"/>
<line x1="127" y1="495.3" x2="127" y2="694.8" class="ax"/>
<line x1="221.5" y1="495.3" x2="221.5" y2="694.8" class="ax"/>
<line x1="316.8" y1="495.3" x2="316.8" y2="694.8" class="ax"/>
<line x1="58.2" y1="495.3" x2="58.2" y2="695.7" class="ax"/>
<line x1="57.3" y1="694.8" x2="360.4" y2="694.8" class="ax"/>
<line x1="58.2" y1="694.8" x2="58.2" y2="698.8" class="ax"/>
<line x1="127" y1="694.8" x2="127" y2="698.8" class="ax"/>
<line x1="221.5" y1="694.8" x2="221.5" y2="698.8" class="ax"/>
<line x1="316.8" y1="694.8" x2="316.8" y2="698.8" class="ax"/>
<line x1="359.8" y1="694.8" x2="359.8" y2="698.8" class="ax"/>
<text class="tick" text-anchor="middle" transform="translate(57.5,707.8) scale(1.07,1)">0.32</text>
<text class="tick" text-anchor="middle" transform="translate(129.7,707.8) scale(1.07,1)">0.59</text>
<text class="tick" text-anchor="middle" transform="translate(224.4,707.8) scale(1.07,1)">0.96</text>
<text class="tick" text-anchor="middle" transform="translate(319.4,707.8) scale(1.07,1)">1.33</text>
<text class="tick" text-anchor="middle" transform="translate(362.7,707.8) scale(1.07,1)">1.50</text>
<text x="26.6" y="726.3" class="let">d</text>
<text class="t10" transform="translate(60.46,718.8) scale(1.0920,1)">Meta-analysis</text>
<text class="t10" transform="translate(131.96,718.8) scale(1.0512,1)">random-effects</text>
<text class="t10" transform="translate(206.61,718.8) scale(1.0554,1)">estimates</text>
<text class="t10" transform="translate(256.07,718.8) scale(1.0202,1)">(linear</text>
<text class="t10" transform="translate(287.41,718.8) scale(1.1111,1)">form)</text>
<text class="t10" transform="translate(60.6,728) scale(1.0482,1)">Study</text>
<text class="t10" transform="translate(90.45,728) scale(1.1065,1)">omitted</text>
<text class="lab" transform="translate(0.44,742.4) scale(1.075,1)">Cernanova</text>
<text class="lab" transform="translate(0.87,752.57) scale(1.075,1)">Mogarekar</text>
<text class="lab" transform="translate(15.97,762.74) scale(1.075,1)">Luptkov</text>
<text class="lab" transform="translate(18.07,772.91) scale(1.075,1)">Muzzio</text>
<text class="lab" transform="translate(28.43,783.08) scale(1.075,1)">Jeon</text>
<text class="lab" transform="translate(26.75,793.25) scale(1.075,1)">Zhou</text>
<text class="lab" transform="translate(23.23,803.42) scale(1.075,1)">Jeong</text>
<text class="lab" transform="translate(15.14,813.59) scale(1.075,1)">Giribela</text>
<text class="lab" transform="translate(23.27,823.76) scale(1.075,1)">Karita</text>
<text class="lab" transform="translate(36.87,833.93) scale(1.075,1)">Lin</text>
<text class="lab" transform="translate(29.45,844.1) scale(1.075,1)">Zern</text>
<text class="lab" transform="translate(27.15,854.27) scale(1.075,1)">Zago</text>
<text class="lab" transform="translate(28.57,864.44) scale(1.075,1)">Berg</text>
<text class="lab" transform="translate(13.27,874.61) scale(1.075,1)">Kanaley</text>
<text class="lab" transform="translate(32.57,884.78) scale(1.075,1)">Kim</text>
<text class="lab" transform="translate(20.57,894.95) scale(1.075,1)">Peters</text>
<text class="lab" transform="translate(27.87,905.12) scale(1.075,1)">Oner</text>
<text class="lab" transform="translate(42.67,915.29) scale(1.075,1)">Li</text>
<text class="lab" transform="translate(2.45,925.46) scale(1.075,1)">Wakatsuki</text>
<text class="lab" transform="translate(6.17,935.63) scale(1.075,1)">Matthews</text>
<line x1="100.3" y1="741.3" x2="340.2" y2="741.3" class="dash"/>
<rect x="99.3" y="738.5" width="2.0" height="5.6" class="cap"/>
<rect x="339.2" y="738.5" width="2.0" height="5.6" class="cap"/>
<line x1="85.4" y1="751.6" x2="329.7" y2="751.6" class="dash"/>
<rect x="84.4" y="748.8" width="2.0" height="5.6" class="cap"/>
<rect x="328.7" y="748.8" width="2.0" height="5.6" class="cap"/>
<line x1="99.2" y1="761.2" x2="340.2" y2="761.2" class="dash"/>
<rect x="98.2" y="758.4" width="2.0" height="5.6" class="cap"/>
<rect x="339.2" y="758.4" width="2.0" height="5.6" class="cap"/>
<line x1="66.1" y1="770.6" x2="305.7" y2="770.6" class="dash"/>
<rect x="65.1" y="767.8" width="2.0" height="5.6" class="cap"/>
<rect x="304.7" y="767.8" width="2.0" height="5.6" class="cap"/>
<line x1="56.4" y1="780.5" x2="301.2" y2="780.5" class="dash"/>
<rect x="55.4" y="777.7" width="2.0" height="5.6" class="cap"/>
<rect x="300.2" y="777.7" width="2.0" height="5.6" class="cap"/>
<line x1="69.6" y1="790.4" x2="324.1" y2="790.4" class="dash"/>
<rect x="68.6" y="787.6" width="2.0" height="5.6" class="cap"/>
<rect x="323.1" y="787.6" width="2.0" height="5.6" class="cap"/>
<line x1="55.9" y1="800.3" x2="356.3" y2="800.3" class="dash"/>
<rect x="54.9" y="797.5" width="2.0" height="5.6" class="cap"/>
<rect x="355.3" y="797.5" width="2.0" height="5.6" class="cap"/>
<line x1="110.6" y1="810.2" x2="344.3" y2="810.2" class="dash"/>
<rect x="109.6" y="807.4" width="2.0" height="5.6" class="cap"/>
<rect x="343.3" y="807.4" width="2.0" height="5.6" class="cap"/>
<line x1="69.6" y1="819.4" x2="313.1" y2="819.4" class="dash"/>
<rect x="68.6" y="816.6" width="2.0" height="5.6" class="cap"/>
<rect x="312.1" y="816.6" width="2.0" height="5.6" class="cap"/>
<line x1="124.4" y1="829.6" x2="336.2" y2="829.6" class="dash"/>
<rect x="123.4" y="826.8" width="2.0" height="5.6" class="cap"/>
<rect x="335.2" y="826.8" width="2.0" height="5.6" class="cap"/>
<line x1="79.3" y1="839.7" x2="321" y2="839.7" class="dash"/>
<rect x="78.3" y="836.9" width="2.0" height="5.6" class="cap"/>
<rect x="320" y="836.9" width="2.0" height="5.6" class="cap"/>
<line x1="67.4" y1="849.3" x2="308.3" y2="849.3" class="dash"/>
<rect x="66.4" y="846.5" width="2.0" height="5.6" class="cap"/>
<rect x="307.3" y="846.5" width="2.0" height="5.6" class="cap"/>
<line x1="61.3" y1="858.9" x2="299.9" y2="858.9" class="dash"/>
<rect x="60.3" y="856.1" width="2.0" height="5.6" class="cap"/>
<rect x="298.9" y="856.1" width="2.0" height="5.6" class="cap"/>
<line x1="98.5" y1="868.5" x2="337.1" y2="868.5" class="dash"/>
<rect x="97.5" y="865.7" width="2.0" height="5.6" class="cap"/>
<rect x="336.1" y="865.7" width="2.0" height="5.6" class="cap"/>
<line x1="77.1" y1="878.5" x2="338.5" y2="878.5" class="dash"/>
<rect x="76.1" y="875.7" width="2.0" height="5.6" class="cap"/>
<rect x="337.5" y="875.7" width="2.0" height="5.6" class="cap"/>
<line x1="85" y1="888.4" x2="330.1" y2="888.4" class="dash"/>
<rect x="84" y="885.6" width="2.0" height="5.6" class="cap"/>
<rect x="329.1" y="885.6" width="2.0" height="5.6" class="cap"/>
<line x1="61.3" y1="897.7" x2="298.2" y2="897.7" class="dash"/>
<rect x="60.3" y="894.9" width="2.0" height="5.6" class="cap"/>
<rect x="297.2" y="894.9" width="2.0" height="5.6" class="cap"/>
<line x1="61.3" y1="907.6" x2="305.7" y2="907.6" class="dash"/>
<rect x="60.3" y="904.8" width="2.0" height="5.6" class="cap"/>
<rect x="304.7" y="904.8" width="2.0" height="5.6" class="cap"/>
<line x1="66.1" y1="917.7" x2="304.3" y2="917.7" class="dash"/>
<rect x="65.1" y="914.9" width="2.0" height="5.6" class="cap"/>
<rect x="303.3" y="914.9" width="2.0" height="5.6" class="cap"/>
<line x1="92.6" y1="927.7" x2="335.3" y2="927.7" class="dash"/>
<rect x="91.6" y="924.9" width="2.0" height="5.6" class="cap"/>
<rect x="334.3" y="924.9" width="2.0" height="5.6" class="cap"/>
<ellipse cx="220.6" cy="741.3" rx="3.2" ry="3.0" fill="#000"/><ellipse cx="220.6" cy="741.3" rx="1.5" ry="1.0" fill="#fff"/>
<ellipse cx="207.2" cy="751.6" rx="3.2" ry="3.0" fill="#000"/><ellipse cx="207.2" cy="751.6" rx="1.5" ry="1.0" fill="#fff"/>
<ellipse cx="220.4" cy="761.2" rx="3.2" ry="3.0" fill="#000"/><ellipse cx="220.4" cy="761.2" rx="1.5" ry="1.0" fill="#fff"/>
<ellipse cx="186" cy="770.6" rx="3.2" ry="3.0" fill="#000"/><ellipse cx="186" cy="770.6" rx="1.5" ry="1.0" fill="#fff"/>
<ellipse cx="178.8" cy="780.5" rx="3.2" ry="3.0" fill="#000"/><ellipse cx="178.8" cy="780.5" rx="1.5" ry="1.0" fill="#fff"/>
<ellipse cx="196.9" cy="790.4" rx="3.2" ry="3.0" fill="#000"/><ellipse cx="196.9" cy="790.4" rx="1.5" ry="1.0" fill="#fff"/>
<ellipse cx="206.1" cy="800.3" rx="3.2" ry="3.0" fill="#000"/><ellipse cx="206.1" cy="800.3" rx="1.5" ry="1.0" fill="#fff"/>
<ellipse cx="226.9" cy="810.2" rx="3.2" ry="3.0" fill="#000"/><ellipse cx="226.9" cy="810.2" rx="1.5" ry="1.0" fill="#fff"/>
<ellipse cx="191.5" cy="819.4" rx="3.2" ry="3.0" fill="#000"/><ellipse cx="191.5" cy="819.4" rx="1.5" ry="1.0" fill="#fff"/>
<ellipse cx="230.2" cy="829.6" rx="3.2" ry="3.0" fill="#000"/><ellipse cx="230.2" cy="829.6" rx="1.5" ry="1.0" fill="#fff"/>
<ellipse cx="200.2" cy="839.7" rx="3.2" ry="3.0" fill="#000"/><ellipse cx="200.2" cy="839.7" rx="1.5" ry="1.0" fill="#fff"/>
<ellipse cx="187.5" cy="849.3" rx="3.2" ry="3.0" fill="#000"/><ellipse cx="187.5" cy="849.3" rx="1.5" ry="1.0" fill="#fff"/>
<ellipse cx="180.5" cy="858.9" rx="3.2" ry="3.0" fill="#000"/><ellipse cx="180.5" cy="858.9" rx="1.5" ry="1.0" fill="#fff"/>
<ellipse cx="217.7" cy="868.5" rx="3.2" ry="3.0" fill="#000"/><ellipse cx="217.7" cy="868.5" rx="1.5" ry="1.0" fill="#fff"/>
<ellipse cx="207.9" cy="878.5" rx="3.2" ry="3.0" fill="#000"/><ellipse cx="207.9" cy="878.5" rx="1.5" ry="1.0" fill="#fff"/>
<ellipse cx="207.9" cy="888.4" rx="3.2" ry="3.0" fill="#000"/><ellipse cx="207.9" cy="888.4" rx="1.5" ry="1.0" fill="#fff"/>
<ellipse cx="179.9" cy="897.7" rx="3.2" ry="3.0" fill="#000"/><ellipse cx="179.9" cy="897.7" rx="1.5" ry="1.0" fill="#fff"/>
<ellipse cx="183.4" cy="907.6" rx="3.2" ry="3.0" fill="#000"/><ellipse cx="183.4" cy="907.6" rx="1.5" ry="1.0" fill="#fff"/>
<ellipse cx="185.3" cy="917.7" rx="3.2" ry="3.0" fill="#000"/><ellipse cx="185.3" cy="917.7" rx="1.5" ry="1.0" fill="#fff"/>
<ellipse cx="213.4" cy="927.7" rx="3.2" ry="3.0" fill="#000"/><ellipse cx="213.4" cy="927.7" rx="1.5" ry="1.0" fill="#fff"/>
<line x1="82.5" y1="734.2" x2="82.5" y2="934.4" class="ax"/>
<line x1="201.5" y1="734.2" x2="201.5" y2="934.4" class="ax"/>
<line x1="319.4" y1="734.2" x2="319.4" y2="934.4" class="ax"/>
<line x1="56.5" y1="734.2" x2="56.5" y2="935.3" class="ax"/>
<line x1="55.6" y1="934.4" x2="356.9" y2="934.4" class="ax"/>
<line x1="56.5" y1="934.4" x2="56.5" y2="938.4" class="ax"/>
<line x1="82.5" y1="934.4" x2="82.5" y2="938.4" class="ax"/>
<line x1="201.5" y1="934.4" x2="201.5" y2="938.4" class="ax"/>
<line x1="319.4" y1="934.4" x2="319.4" y2="938.4" class="ax"/>
<line x1="356.3" y1="934.4" x2="356.3" y2="938.4" class="ax"/>
<text class="tick" text-anchor="middle" transform="translate(59.1,946) scale(1.07,1)">0.38</text>
<text class="tick" text-anchor="middle" transform="translate(85.4,946) scale(1.07,1)">0.41</text>
<text class="tick" text-anchor="middle" transform="translate(204,946) scale(1.07,1)">0.56</text>
<text class="tick" text-anchor="middle" transform="translate(321.9,946) scale(1.07,1)">0.71</text>
<text class="tick" text-anchor="middle" transform="translate(359.5,946) scale(1.07,1)">0.76</text>
<text x="402.8" y="16.6" class="let">e</text>
<line x1="434.8" y1="66" x2="682.3" y2="66" class="grid"/>
<line x1="434.8" y1="104.1" x2="682.3" y2="104.1" class="grid"/>
<line x1="434.8" y1="141.5" x2="682.3" y2="141.5" class="grid"/>
<line x1="434.8" y1="180.2" x2="682.3" y2="180.2" class="grid"/>
<line x1="434.8" y1="218.2" x2="682.3" y2="218.2" class="grid"/>
<circle cx="535.5" cy="74.2" r="2.5" fill="#1a476f"/>
<circle cx="558.1" cy="83.3" r="2.5" fill="#1a476f"/>
<circle cx="582.3" cy="87.4" r="2.5" fill="#1a476f"/>
<circle cx="571.2" cy="93.5" r="2.5" fill="#1a476f"/>
<circle cx="599.2" cy="97.4" r="2.5" fill="#1a476f"/>
<circle cx="534.3" cy="110.4" r="2.5" fill="#1a476f"/>
<circle cx="549.4" cy="110.5" r="2.5" fill="#1a476f"/>
<circle cx="570.3" cy="121.3" r="2.5" fill="#1a476f"/>
<circle cx="520.2" cy="128.5" r="2.5" fill="#1a476f"/>
<circle cx="521.8" cy="128.5" r="2.5" fill="#1a476f"/>
<circle cx="549.4" cy="133.5" r="2.5" fill="#1a476f"/>
<circle cx="578.3" cy="132.3" r="2.5" fill="#1a476f"/>
<circle cx="468.1" cy="153.6" r="2.5" fill="#1a476f"/>
<circle cx="504.1" cy="166.6" r="2.5" fill="#1a476f"/>
<circle cx="557.8" cy="175.5" r="2.5" fill="#1a476f"/>
<circle cx="575.3" cy="173.8" r="2.5" fill="#1a476f"/>
<circle cx="599.2" cy="181.4" r="2.5" fill="#1a476f"/>
<circle cx="557.8" cy="186.5" r="2.5" fill="#1a476f"/>
<circle cx="453.2" cy="194.6" r="2.5" fill="#1a476f"/>
<circle cx="479.1" cy="200.6" r="2.5" fill="#1a476f"/>
<circle cx="545.2" cy="212.4" r="2.5" fill="#1a476f"/>
<circle cx="556.5" cy="175.5" r="2.5" fill="#1a476f"/>
<circle cx="556.5" cy="186.5" r="2.5" fill="#1a476f"/>
<path d="M458.5 211.2 L548.9 66.8 L638.8 211.2" class="fdash"/>
<line x1="549" y1="66.8" x2="549" y2="213.1" class="vl"/>
<line x1="433.8" y1="61.2" x2="433.8" y2="222.5" class="ax2"/>
<line x1="432.8" y1="221.5" x2="682.3" y2="221.5" class="ax2"/>
<line x1="430.6" y1="66" x2="433.8" y2="66" class="ax2"/>
<text class="t10" transform="translate(428.4,65.5) rotate(-90)">0</text>
<line x1="430.6" y1="104.1" x2="433.8" y2="104.1" class="ax2"/>
<text class="t10" transform="translate(428.4,103.6) rotate(-90)">.1</text>
<line x1="430.6" y1="141.5" x2="433.8" y2="141.5" class="ax2"/>
<text class="t10" transform="translate(428.4,141) rotate(-90)">.2</text>
<line x1="430.6" y1="180.2" x2="433.8" y2="180.2" class="ax2"/>
<text class="t10" transform="translate(428.4,179.7) rotate(-90)">.3</text>
<line x1="430.6" y1="218.2" x2="433.8" y2="218.2" class="ax2"/>
<text class="t10" transform="translate(428.4,217.7) rotate(-90)">.4</text>
<line x1="437.6" y1="221.5" x2="437.6" y2="224.5" class="ax2"/>
<text class="t10" text-anchor="middle" transform="translate(438.9,235.8) scale(1.08,1)">-1</text>
<line x1="497.4" y1="221.5" x2="497.4" y2="224.5" class="ax2"/>
<text class="t10" text-anchor="middle" transform="translate(502.8,235.8) scale(1.08,1)">-0.5</text>
<line x1="557.2" y1="221.5" x2="557.2" y2="224.5" class="ax2"/>
<text class="t10" text-anchor="middle" transform="translate(558,235.8) scale(1.08,1)">0</text>
<line x1="617.6" y1="221.5" x2="617.6" y2="224.5" class="ax2"/>
<text class="t10" text-anchor="middle" transform="translate(622,235.8) scale(1.08,1)">0.5</text>
<line x1="678.4" y1="221.5" x2="678.4" y2="224.5" class="ax2"/>
<text class="t10" text-anchor="middle" transform="translate(677.8,235.8) scale(1.08,1)">1</text>
<text x="561.3" y="245.3" class="t10" text-anchor="middle">SMD</text>
<text class="t11" text-anchor="middle" transform="translate(417.5,139) rotate(-90)">SE (SMD)</text>
<text class="t10" transform="translate(441.42,60.7) scale(1.1436,1)">Funnel</text>
<text class="t10" transform="translate(479.48,60.7) scale(1.1415,1)">plot</text>
<text class="t10" transform="translate(500.04,60.7) scale(1.0362,1)">with</text>
<text class="t10" transform="translate(521.49,60.7) scale(1.0659,1)">pseudo-95%</text>
<text class="t10" transform="translate(585.41,60.7) scale(1.0209,1)">CIs</text>
<text x="402.8" y="252.3" class="let">f</text>
<line x1="434.7" y1="304.2" x2="680.6" y2="304.2" class="grid"/>
<line x1="434.7" y1="334.2" x2="680.6" y2="334.2" class="grid"/>
<line x1="434.7" y1="364.5" x2="680.6" y2="364.5" class="grid"/>
<line x1="434.7" y1="395" x2="680.6" y2="395" class="grid"/>
<line x1="434.7" y1="425.3" x2="680.6" y2="425.3" class="grid"/>
<line x1="434.7" y1="455.1" x2="680.6" y2="455.1" class="grid"/>
<circle cx="571.3" cy="311.5" r="2.5" fill="#1a476f"/>
<circle cx="573.2" cy="318.4" r="2.5" fill="#1a476f"/>
<circle cx="540.3" cy="321.5" r="2.5" fill="#1a476f"/>
<circle cx="546.4" cy="326.8" r="2.5" fill="#1a476f"/>
<circle cx="512.3" cy="329.5" r="2.5" fill="#1a476f"/>
<circle cx="510.3" cy="339.6" r="2.5" fill="#1a476f"/>
<circle cx="511.6" cy="339.6" r="2.5" fill="#1a476f"/>
<circle cx="542" cy="348.7" r="2.5" fill="#1a476f"/>
<circle cx="509.3" cy="357.4" r="2.5" fill="#1a476f"/>
<circle cx="548.2" cy="358.3" r="2.5" fill="#1a476f"/>
<circle cx="596" cy="356.6" r="2.5" fill="#1a476f"/>
<circle cx="533.3" cy="372.3" r="2.5" fill="#1a476f"/>
<circle cx="503.2" cy="389.5" r="2.5" fill="#1a476f"/>
<circle cx="607.2" cy="388.6" r="2.5" fill="#1a476f"/>
<circle cx="493.1" cy="395.5" r="2.5" fill="#1a476f"/>
<circle cx="482" cy="400.8" r="2.5" fill="#1a476f"/>
<circle cx="483.3" cy="400.8" r="2.5" fill="#1a476f"/>
<circle cx="627.2" cy="398.5" r="2.5" fill="#1a476f"/>
<circle cx="667.5" cy="416.6" r="2.5" fill="#1a476f"/>
<circle cx="646.5" cy="420.4" r="2.5" fill="#1a476f"/>
<circle cx="676.2" cy="438.8" r="2.5" fill="#1a476f"/>
<circle cx="677.5" cy="438.8" r="2.5" fill="#1a476f"/>
<path d="M464.7 436.7 L560.1 305.2 L655.7 436.7" class="fdash"/>
<line x1="560.1" y1="305.4" x2="560.1" y2="436.5" class="vl"/>
<line x1="433.7" y1="299.4" x2="433.7" y2="460.1" class="ax2"/>
<line x1="432.7" y1="459.1" x2="680.6" y2="459.1" class="ax2"/>
<line x1="430.5" y1="304.2" x2="433.7" y2="304.2" class="ax2"/>
<text class="t10" text-anchor="middle" transform="translate(428.6,304.2) rotate(-90)">0</text>
<line x1="430.5" y1="334.2" x2="433.7" y2="334.2" class="ax2"/>
<text class="t10" text-anchor="middle" transform="translate(428.6,334.2) rotate(-90)">.1</text>
<line x1="430.5" y1="364.5" x2="433.7" y2="364.5" class="ax2"/>
<text class="t10" text-anchor="middle" transform="translate(428.6,364.5) rotate(-90)">.2</text>
<line x1="430.5" y1="395" x2="433.7" y2="395" class="ax2"/>
<text class="t10" text-anchor="middle" transform="translate(428.6,395) rotate(-90)">.3</text>
<line x1="430.5" y1="425.3" x2="433.7" y2="425.3" class="ax2"/>
<text class="t10" text-anchor="middle" transform="translate(428.6,425.3) rotate(-90)">.4</text>
<line x1="430.5" y1="455.1" x2="433.7" y2="455.1" class="ax2"/>
<text class="t10" text-anchor="middle" transform="translate(428.6,455.1) rotate(-90)">.5</text>
<line x1="438.3" y1="459.1" x2="438.3" y2="462.1" class="ax2"/>
<text class="t10" text-anchor="middle" transform="translate(442.8,471.6) scale(1.08,1)">-0.5</text>
<line x1="493.9" y1="459.1" x2="493.9" y2="462.1" class="ax2"/>
<text class="t10" text-anchor="middle" transform="translate(494.2,471.6) scale(1.08,1)">0</text>
<line x1="548.6" y1="459.1" x2="548.6" y2="462.1" class="ax2"/>
<text class="t10" text-anchor="middle" transform="translate(553.3,471.6) scale(1.08,1)">0.5</text>
<line x1="605.3" y1="459.1" x2="605.3" y2="462.1" class="ax2"/>
<text class="t10" text-anchor="middle" transform="translate(604.9,471.6) scale(1.08,1)">1</text>
<line x1="659.6" y1="459.1" x2="659.6" y2="462.1" class="ax2"/>
<text class="t10" text-anchor="middle" transform="translate(662.2,471.6) scale(1.08,1)">1.5</text>
<text x="561.6" y="483.1" class="t10" text-anchor="middle">SMD</text>
<text class="t11" text-anchor="middle" transform="translate(415.7,383.4) rotate(-90)">SE (SMD)</text>
<text class="t10" transform="translate(446.32,298.9) scale(1.1393,1)">Funnel</text>
<text class="t10" transform="translate(484.24,298.9) scale(1.1372,1)">plot</text>
<text class="t10" transform="translate(504.72,298.9) scale(1.0323,1)">with</text>
<text class="t10" transform="translate(526.09,298.9) scale(1.0618,1)">pseudo-95%</text>
<text class="t10" transform="translate(589.77,298.9) scale(1.0170,1)">CIs</text>
<text x="400.4" y="489.7" class="let">g</text>
<line x1="433.7" y1="539.2" x2="680.5" y2="539.2" class="grid"/>
<line x1="433.7" y1="576.4" x2="680.5" y2="576.4" class="grid"/>
<line x1="433.7" y1="614.1" x2="680.5" y2="614.1" class="grid"/>
<line x1="433.7" y1="652.2" x2="680.5" y2="652.2" class="grid"/>
<line x1="433.7" y1="690.2" x2="680.5" y2="690.2" class="grid"/>
<circle cx="459.2" cy="547.7" r="2.5" fill="#1a476f"/>
<circle cx="459.2" cy="552.8" r="2.5" fill="#1a476f"/>
<circle cx="455.1" cy="555.8" r="2.5" fill="#1a476f"/>
<circle cx="454.1" cy="560.9" r="2.5" fill="#1a476f"/>
<circle cx="457" cy="570.4" r="2.5" fill="#1a476f"/>
<circle cx="454.4" cy="582" r="2.5" fill="#1a476f"/>
<circle cx="455.6" cy="582" r="2.5" fill="#1a476f"/>
<circle cx="448.3" cy="594.7" r="2.5" fill="#1a476f"/>
<circle cx="453.1" cy="605" r="2.5" fill="#1a476f"/>
<circle cx="463.6" cy="607.6" r="2.5" fill="#1a476f"/>
<circle cx="467.3" cy="603.6" r="2.5" fill="#1a476f"/>
<circle cx="468" cy="626.8" r="2.5" fill="#1a476f"/>
<circle cx="449.6" cy="646.2" r="2.5" fill="#1a476f"/>
<circle cx="450.9" cy="646.2" r="2.5" fill="#1a476f"/>
<circle cx="469.2" cy="643.9" r="2.5" fill="#1a476f"/>
<circle cx="461.4" cy="655.7" r="2.5" fill="#1a476f"/>
<circle cx="437.3" cy="660.8" r="2.5" fill="#1a476f"/>
<circle cx="480.4" cy="660.8" r="2.5" fill="#1a476f"/>
<circle cx="480.4" cy="676.7" r="2.5" fill="#1a476f"/>
<circle cx="476" cy="681.8" r="2.5" fill="#1a476f"/>
<circle cx="458.1" cy="686.6" r="2.5" fill="#1a476f"/>
<circle cx="666.2" cy="638" r="2.5" fill="#1a476f"/>
<path d="M441.4 686.8 L458.6 539.2 L476.8 686.8" class="fdash"/>
<line x1="458.4" y1="539" x2="458.4" y2="687.4" class="vl"/>
<line x1="432.7" y1="534.4" x2="432.7" y2="695" class="ax2"/>
<line x1="431.7" y1="694" x2="680.5" y2="694" class="ax2"/>
<line x1="429.5" y1="539.2" x2="432.7" y2="539.2" class="ax2"/>
<text class="t10" text-anchor="middle" transform="translate(428.6,539.2) rotate(-90)">0</text>
<line x1="429.5" y1="576.4" x2="432.7" y2="576.4" class="ax2"/>
<text class="t10" text-anchor="middle" transform="translate(428.6,576.4) rotate(-90)">.1</text>
<line x1="429.5" y1="614.1" x2="432.7" y2="614.1" class="ax2"/>
<text class="t10" text-anchor="middle" transform="translate(428.6,614.1) rotate(-90)">.2</text>
<line x1="429.5" y1="652.2" x2="432.7" y2="652.2" class="ax2"/>
<text class="t10" text-anchor="middle" transform="translate(428.6,652.2) rotate(-90)">.3</text>
<line x1="429.5" y1="690.2" x2="432.7" y2="690.2" class="ax2"/>
<text class="t10" text-anchor="middle" transform="translate(428.6,690.2) rotate(-90)">.4</text>
<line x1="449" y1="694" x2="449" y2="697" class="ax2"/>
<text class="t10" text-anchor="middle" transform="translate(448.8,708.8) scale(1.08,1)">0</text>
<line x1="494.4" y1="694" x2="494.4" y2="697" class="ax2"/>
<text class="t10" text-anchor="middle" transform="translate(494.3,708.8) scale(1.08,1)">2</text>
<line x1="539.9" y1="694" x2="539.9" y2="697" class="ax2"/>
<text class="t10" text-anchor="middle" transform="translate(539.8,708.8) scale(1.08,1)">4</text>
<line x1="585.4" y1="694" x2="585.4" y2="697" class="ax2"/>
<text class="t10" text-anchor="middle" transform="translate(585.4,708.8) scale(1.08,1)">6</text>
<line x1="631.1" y1="694" x2="631.1" y2="697" class="ax2"/>
<text class="t10" text-anchor="middle" transform="translate(631.3,708.8) scale(1.08,1)">8</text>
<line x1="677" y1="694" x2="677" y2="697" class="ax2"/>
<text class="t10" text-anchor="middle" transform="translate(677.4,708.8) scale(1.08,1)">10</text>
<text x="560.9" y="716.3" class="t10" text-anchor="middle">SMD</text>
<text class="t11" text-anchor="middle" transform="translate(415.7,615.4) rotate(-90)">SE (SMD)</text>
<text class="t10" transform="translate(447.32,532.9) scale(1.1408,1)">Funnel</text>
<text class="t10" transform="translate(485.28,532.9) scale(1.1386,1)">plot</text>
<text class="t10" transform="translate(505.79,532.9) scale(1.0336,1)">with</text>
<text class="t10" transform="translate(527.19,532.9) scale(1.0632,1)">pseudo-95%</text>
<text class="t10" transform="translate(590.95,532.9) scale(1.0183,1)">CIs</text>
<text x="402.8" y="726.6" class="let">h</text>
<line x1="434.8" y1="781.2" x2="675.7" y2="781.2" class="grid"/>
<line x1="434.8" y1="815.8" x2="675.7" y2="815.8" class="grid"/>
<line x1="434.8" y1="850.2" x2="675.7" y2="850.2" class="grid"/>
<line x1="434.8" y1="884.6" x2="675.7" y2="884.6" class="grid"/>
<line x1="434.8" y1="919.5" x2="675.7" y2="919.5" class="grid"/>
<circle cx="574.2" cy="789.8" r="2.5" fill="#1a476f"/>
<circle cx="602" cy="797.7" r="2.5" fill="#1a476f"/>
<circle cx="603.4" cy="797.7" r="2.5" fill="#1a476f"/>
<circle cx="555.1" cy="801.9" r="2.5" fill="#1a476f"/>
<circle cx="574.7" cy="807.7" r="2.5" fill="#1a476f"/>
<circle cx="494.3" cy="809.9" r="2.5" fill="#1a476f"/>
<circle cx="518.8" cy="821.3" r="2.5" fill="#1a476f"/>
<circle cx="520.2" cy="821.3" r="2.5" fill="#1a476f"/>
<circle cx="547.2" cy="832.7" r="2.5" fill="#1a476f"/>
<circle cx="529.2" cy="841.8" r="2.5" fill="#1a476f"/>
<circle cx="607.1" cy="841.8" r="2.5" fill="#1a476f"/>
<circle cx="588.4" cy="845" r="2.5" fill="#1a476f"/>
<circle cx="542" cy="858.8" r="2.5" fill="#1a476f"/>
<circle cx="543.4" cy="858.8" r="2.5" fill="#1a476f"/>
<circle cx="495.6" cy="879" r="2.5" fill="#1a476f"/>
<circle cx="612.3" cy="876.9" r="2.5" fill="#1a476f"/>
<circle cx="566.2" cy="887.6" r="2.5" fill="#1a476f"/>
<circle cx="437" cy="892.9" r="2.5" fill="#1a476f"/>
<circle cx="648.6" cy="890.9" r="2.5" fill="#1a476f"/>
<circle cx="643.5" cy="911.9" r="2.5" fill="#1a476f"/>
<circle cx="671.3" cy="909" r="2.5" fill="#1a476f"/>
<circle cx="661.4" cy="930" r="2.5" fill="#1a476f"/>
<path d="M471.7 929 L569.8 782.4 L668.4 929.1" class="fdash"/>
<line x1="569.9" y1="782.6" x2="569.9" y2="929.5" class="vl"/>
<line x1="433.8" y1="777.9" x2="433.8" y2="933.8" class="ax2"/>
<line x1="432.8" y1="932.8" x2="675.7" y2="932.8" class="ax2"/>
<line x1="430.6" y1="781.2" x2="433.8" y2="781.2" class="ax2"/>
<text class="t10" transform="translate(429,782.5) rotate(-90)">0</text>
<line x1="430.6" y1="815.8" x2="433.8" y2="815.8" class="ax2"/>
<text class="t10" transform="translate(429,817.1) rotate(-90)">.1</text>
<line x1="430.6" y1="850.2" x2="433.8" y2="850.2" class="ax2"/>
<text class="t10" transform="translate(429,851.5) rotate(-90)">.2</text>
<line x1="430.6" y1="884.6" x2="433.8" y2="884.6" class="ax2"/>
<text class="t10" transform="translate(429,885.9) rotate(-90)">.3</text>
<line x1="430.6" y1="919.5" x2="433.8" y2="919.5" class="ax2"/>
<text class="t10" transform="translate(429,920.8) rotate(-90)">.4</text>
<line x1="437.4" y1="932.8" x2="437.4" y2="935.8" class="ax2"/>
<text class="t10" text-anchor="middle" transform="translate(443.4,947.8) scale(1.08,1)">-0.5</text>
<line x1="496.3" y1="932.8" x2="496.3" y2="935.8" class="ax2"/>
<text class="t10" text-anchor="middle" transform="translate(497.3,947.8) scale(1.08,1)">0</text>
<line x1="555" y1="932.8" x2="555" y2="935.8" class="ax2"/>
<text class="t10" text-anchor="middle" transform="translate(553.3,947.8) scale(1.08,1)">0.5</text>
<line x1="613.7" y1="932.8" x2="613.7" y2="935.8" class="ax2"/>
<text class="t10" text-anchor="middle" transform="translate(613.3,947.8) scale(1.08,1)">1</text>
<line x1="672.2" y1="932.8" x2="672.2" y2="935.8" class="ax2"/>
<text class="t10" text-anchor="middle" transform="translate(673.2,947.8) scale(1.08,1)">1.5</text>
<text x="562" y="957.2" class="t10" text-anchor="middle">SMD</text>
<text class="t11" text-anchor="middle" transform="translate(418.8,852.1) rotate(-90)">SE (SMD)</text>
<text class="t10" transform="translate(442.22,776.8) scale(1.1436,1)">Funnel</text>
<text class="t10" transform="translate(480.28,776.8) scale(1.1415,1)">plot</text>
<text class="t10" transform="translate(500.84,776.8) scale(1.0362,1)">with</text>
<text class="t10" transform="translate(522.29,776.8) scale(1.0659,1)">pseudo-95%</text>
<text class="t10" transform="translate(586.21,776.8) scale(1.0209,1)">CIs</text>
</svg>
</body></html>
